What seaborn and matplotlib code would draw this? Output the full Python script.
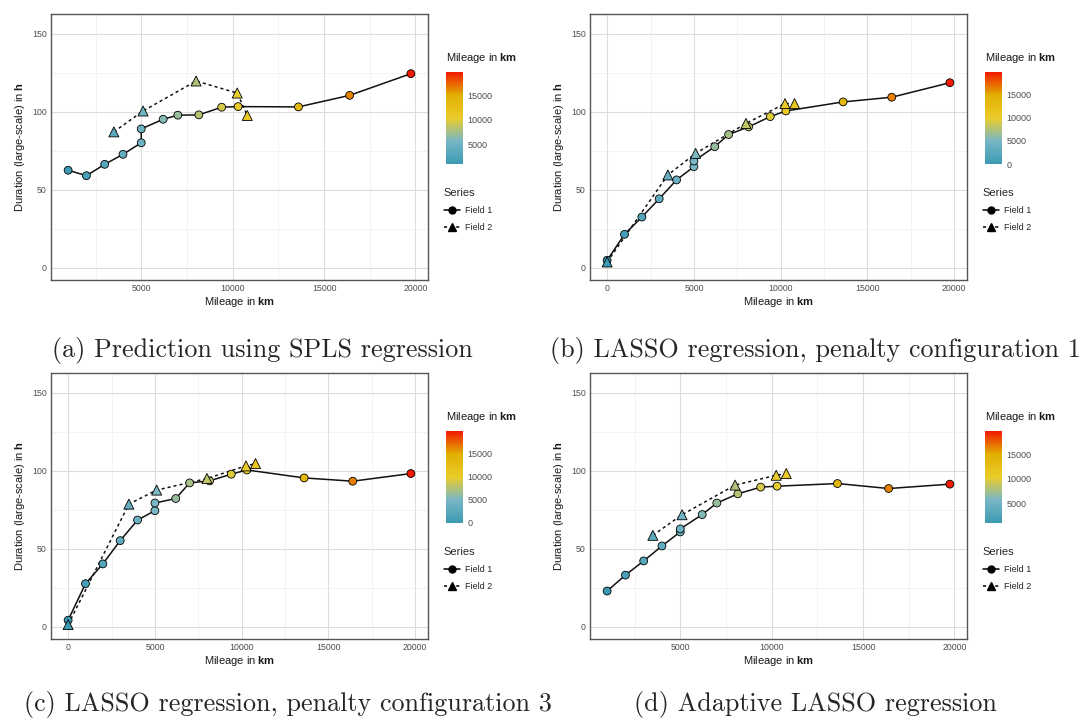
import matplotlib
matplotlib.use("Agg")
import matplotlib.pyplot as plt
import seaborn as sns
from matplotlib.colors import LinearSegmentedColormap, Normalize
from matplotlib.cm import ScalarMappable
from matplotlib.lines import Line2D

# mileage of the measured points (km)
field1_km = [1000, 2000, 3000, 4000, 5000, 5000, 6200, 7000, 8150, 9400, 10300, 13600, 16400, 19750]
field2_km = [3500, 5100, 8000, 10250, 10800]
field1_km0 = [0] + field1_km
field2_km0 = [0] + field2_km

# predicted large-scale duration (h) per model
spls_f1 = [62.6, 59.1, 66.4, 72.8, 80.2, 89.1, 95.3, 97.9, 98.1, 103.0, 103.4, 103.2, 110.6, 124.5]
spls_f2 = [87.2, 100.6, 119.8, 112.1, 97.7]
lasso1_f1 = [4.9, 21.5, 32.6, 44.3, 56.4, 64.9, 68.5, 77.7, 85.5, 90.4, 97.0, 100.6, 106.4, 109.4, 118.7]
lasso1_f2 = [3.8, 59.6, 73.4, 92.6, 105.3, 105.3]
lasso3_f1 = [4.3, 27.7, 40.4, 55.3, 68.5, 74.5, 79.4, 82.3, 92.3, 93.6, 97.9, 100.6, 95.5, 93.4, 98.3]
lasso3_f2 = [1.5, 78.7, 87.7, 95.1, 103.2, 104.7]
alasso_f1 = [23.0, 33.2, 42.3, 51.9, 60.9, 62.8, 72.0, 79.4, 85.3, 89.6, 90.2, 91.9, 88.7, 91.5]
alasso_f2 = [58.7, 71.9, 90.9, 97.2, 98.3]

captions = [
    "(a) Prediction using SPLS regression",
    "(b) LASSO regression, penalty configuration 1",
    "(c) LASSO regression, penalty configuration 3",
    "(d) Adaptive LASSO regression",
]
y_ticks = [0, 50, 100, 150]
x_ticks = [0, 5000, 10000, 15000, 20000]
cbar_ticks = [0, 5000, 10000, 15000]

zissou = ["#3B9AB2", "#78B7C5", "#EBCC2A", "#E1AF00", "#F21A00"]
cmap = LinearSegmentedColormap.from_list("zissou", zissou)

sns.set_theme(style="white")
plt.rcParams["font.family"] = ["Liberation Sans", "DejaVu Sans"]
plt.rcParams["mathtext.fontset"] = "custom"
plt.rcParams["mathtext.rm"] = "Liberation Sans"
plt.rcParams["mathtext.bf"] = "Liberation Sans:bold"

W, H = 1086, 720
fig = plt.figure(figsize=(W / 100, H / 100), dpi=100)

panels = [
    (field1_km, spls_f1, field2_km, spls_f2, 51, 14),
    (field1_km0, lasso1_f1, field2_km0, lasso1_f2, 590, 14),
    (field1_km0, lasso3_f1, field2_km0, lasso3_f2, 51, 373),
    (field1_km, alasso_f1, field2_km, alasso_f2, 590, 373),
]
cap_pos = [(262, 350), (815, 350), (288, 704), (815, 704)]

for i, (x1, y1, x2, y2, left, top) in enumerate(panels):
    ax = fig.add_axes([left / W, 1 - (top + 266) / H, 377 / W, 266 / H])
    lo = min(x1 + x2)
    hi = max(x1 + x2)
    norm = Normalize(lo, hi)
    pad = 0.05 * (hi - lo)

    ax.yaxis.set_minor_locator(matplotlib.ticker.MultipleLocator(25))
    ax.xaxis.set_minor_locator(matplotlib.ticker.MultipleLocator(2500))
    ax.grid(which="major", color="#DDDDDD", lw=0.8)
    ax.grid(which="minor", color="#EEEEEE", lw=0.5)
    ax.set_axisbelow(True)

    sns.lineplot(x=x1, y=y1, ax=ax, color="#111111", lw=1.1, sort=False, estimator=None, zorder=2)
    sns.lineplot(x=x2, y=y2, ax=ax, color="#111111", lw=1.1, sort=False, estimator=None,
                 zorder=2).lines[-1].set_dashes([2, 2])
    sns.scatterplot(x=x1, y=y1, hue=x1, palette=cmap, hue_norm=norm, ax=ax, marker="o",
                    s=32, edgecolor="black", linewidth=0.6, legend=False, zorder=3)
    sns.scatterplot(x=x2, y=y2, hue=x2, palette=cmap, hue_norm=norm, ax=ax, marker="^",
                    s=52, edgecolor="black", linewidth=0.6, legend=False, zorder=3)

    ax.set_xlim(lo - pad, hi + pad)
    ax.set_ylim(-7.75, 162.75)
    ax.set_xticks([t for t in x_ticks if lo - pad <= t <= hi + pad])
    ax.set_yticks(y_ticks)
    ax.tick_params(labelsize=6.3, colors="#4D4D4D", length=0, pad=3)
    for sp in ax.spines.values():
        sp.set_color("#555555")
        sp.set_linewidth(1.0)
    ax.set_xlabel(r"Mileage in $\mathbf{km}$", fontsize=8, labelpad=1, color="#1A1A1A")
    ax.set_ylabel(r"Duration (large-scale) in $\mathbf{h}$", fontsize=8, labelpad=4, color="#1A1A1A")

    # colour bar legend
    cx = left + 395
    fig.text(cx / W, 1 - (top + 44) / H, r"Mileage in $\mathbf{km}$", fontsize=8,
             ha="left", va="center", color="#1A1A1A")
    cax = fig.add_axes([cx / W, 1 - (top + 150) / H, 17 / W, 92 / H])
    cb = fig.colorbar(ScalarMappable(norm=norm, cmap=cmap), cax=cax)
    cb.outline.set_visible(False)
    cb.set_ticks([t for t in cbar_ticks if lo <= t <= hi])
    cax.tick_params(labelsize=6.5, colors="white", labelcolor="#4D4D4D", length=3,
                    width=0.6, direction="in", pad=3)

    handles = [
        Line2D([], [], color="black", lw=1.1, marker="o", markersize=5),
        Line2D([], [], color="black", lw=1.1, ls=(0, (2, 2)), marker="^", markersize=5.5),
    ]
    ax.legend(handles, ["Field 1", "Field 2"], title="Series", loc="upper left",
              bbox_to_anchor=((cx - 6) / W, 1 - (top + 170) / H), bbox_transform=fig.transFigure,
              frameon=False, alignment="left", fontsize=6.5, title_fontsize=8,
              handlelength=1.8, labelspacing=0.9, handletextpad=0.6, borderaxespad=0)

    fig.text(cap_pos[i][0] / W, 1 - cap_pos[i][1] / H, captions[i], family="cmr10",
             fontsize=18.8, ha="center", va="center")

fig.savefig("out.png", dpi=100)
